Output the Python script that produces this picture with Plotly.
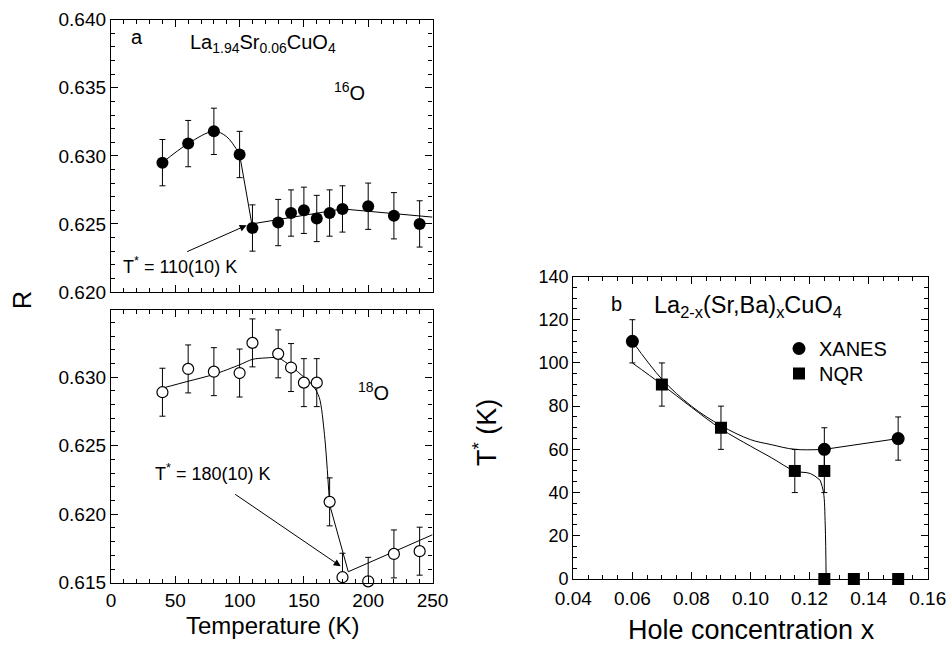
import plotly.graph_objects as go

W, H = 949, 645
FONT = "Liberation Sans, Arial, Helvetica, sans-serif"

# ---------------- data: panel a, 16O ----------------
T16 = [40, 60, 80, 100, 110, 130, 140, 150, 160, 170, 180, 200, 220, 240]
R16 = [0.6295, 0.6309, 0.6318, 0.6301, 0.6247, 0.6251, 0.6258, 0.6260,
       0.6254, 0.6258, 0.6261, 0.6263, 0.6256, 0.6250]
E16 = [0.0017] * len(T16)
fit16a_T = [40, 60, 80, 90, 100]
fit16a_R = [0.6295, 0.6309, 0.6318, 0.6314, 0.6301]
fit16b_T = [100, 109.5, 180, 250]
fit16b_R = [0.6301, 0.6250, 0.6261, 0.6255]

# ---------------- data: panel a, 18O ----------------
T18 = [40, 60, 80, 100, 110, 130, 140, 150, 160, 170, 180, 200, 220, 240]
R18 = [0.6289, 0.6306, 0.6304, 0.6303, 0.6325, 0.6317, 0.6307, 0.6296,
       0.6296, 0.6209, 0.6154, 0.6151, 0.6171, 0.6173]
E18 = [0.00175] * len(T18)
fit18a_T = [40, 60, 80, 100, 110, 120, 130, 140, 150, 157, 162, 166, 170]
fit18a_R = [0.6292, 0.6297, 0.6302, 0.6309, 0.6313, 0.6314, 0.6314, 0.6308,
            0.6300, 0.6294, 0.6285, 0.6258, 0.6207]
fit18b_T = [170, 184.5, 250]
fit18b_R = [0.6207, 0.6158, 0.6185]

# ---------------- data: panel b ----------------
x_xanes = [0.06, 0.125, 0.15]
T_xanes = [110, 60, 65]
E_xanes = [10, 10, 10]
x_nqr = [0.07, 0.09, 0.115, 0.125, 0.125, 0.135, 0.15]
T_nqr = [90, 70, 50, 50, 0, 0, 0]
E_nqr = [10, 10, 10, 10, 0, 0, 0]
fitX_a_x = [0.06, 0.07, 0.08, 0.09, 0.10, 0.107, 0.115, 0.125]
fitX_a_y = [110, 92.5, 80, 71, 64.5, 62.2, 60, 60]
fitX_b_x = [0.125, 0.15]
fitX_b_y = [60, 65]
fitN_a_x = [0.06, 0.07, 0.08, 0.09, 0.10, 0.107, 0.115, 0.1203, 0.1236]
fitN_a_y = [100, 90, 79.5, 69.5, 61.5, 56.2, 50, 48.8, 45.7]
fitN_b_x = [0.1236, 0.1247, 0.1253, 0.1256]
fitN_b_y = [45.7, 40.3, 25, 0]

# ---------------- geometry (pixels) ----------------
def px(x):
    return x / W

def py(y):
    return 1 - y / H

fig = go.Figure()

err = lambda arr: dict(type="data", array=arr, visible=True, color="black",
                       thickness=1, width=3)
line_style = dict(color="black", width=1)

# panel a top (16O)
fig.add_trace(go.Scatter(x=fit16a_T, y=fit16a_R, mode="lines", line=dict(shape="spline", **line_style),
                         xaxis="x2", yaxis="y2", showlegend=False, hoverinfo="skip"))
fig.add_trace(go.Scatter(x=fit16b_T, y=fit16b_R, mode="lines", line=line_style,
                         xaxis="x2", yaxis="y2", showlegend=False, hoverinfo="skip"))
fig.add_trace(go.Scatter(x=T16, y=R16, mode="markers", error_y=err(E16),
                         marker=dict(symbol="circle", size=12, color="black"),
                         xaxis="x2", yaxis="y2", showlegend=False))

# panel a bottom (18O)
fig.add_trace(go.Scatter(x=fit18a_T, y=fit18a_R, mode="lines", line=dict(shape="spline", smoothing=0.8, **line_style),
                         xaxis="x", yaxis="y", showlegend=False, hoverinfo="skip"))
fig.add_trace(go.Scatter(x=fit18b_T, y=fit18b_R, mode="lines", line=line_style,
                         xaxis="x", yaxis="y", showlegend=False, hoverinfo="skip"))
fig.add_trace(go.Scatter(x=T18, y=R18, mode="markers", error_y=err(E18),
                         marker=dict(symbol="circle", size=11, color="white",
                                     line=dict(color="black", width=1.2)),
                         xaxis="x", yaxis="y", showlegend=False, cliponaxis=False))

# panel b
for xs, ys, shp in [(fitX_a_x, fitX_a_y, "spline"), (fitX_b_x, fitX_b_y, "linear"),
                    (fitN_a_x, fitN_a_y, "spline"), (fitN_b_x, fitN_b_y, "spline")]:
    fig.add_trace(go.Scatter(x=xs, y=ys, mode="lines", line=dict(shape=shp, **line_style),
                             xaxis="x3", yaxis="y3", showlegend=False, hoverinfo="skip"))
fig.add_trace(go.Scatter(x=x_xanes, y=T_xanes, mode="markers", name="XANES", error_y=err(E_xanes),
                         marker=dict(symbol="circle", size=13, color="black"),
                         xaxis="x3", yaxis="y3", cliponaxis=False, legend="legend"))
fig.add_trace(go.Scatter(x=x_nqr, y=T_nqr, mode="markers", name="NQR", error_y=err(E_nqr),
                         marker=dict(symbol="square", size=12, color="black"),
                         xaxis="x3", yaxis="y3", cliponaxis=False, legend="legend2"))

def ax(dom, rng, dtick, minor_dtick, fmt, anchor, showlabels=True, fsize=19, standoff=None):
    d = dict(domain=dom, range=rng, dtick=dtick, tick0=0, tickformat=fmt,
             anchor=anchor, showline=True, linecolor="black", linewidth=1.3,
             mirror="allticks", ticks="inside", ticklen=7, tickwidth=1.2,
             tickcolor="black", showgrid=False, zeroline=False, automargin=False,
             showticklabels=showlabels,
             tickfont=dict(family=FONT, size=fsize, color="black"),
             minor=dict(dtick=minor_dtick, ticks="inside", ticklen=4,
                        tickwidth=1, tickcolor="black", showgrid=False))
    if standoff is not None:
        d["ticklabelstandoff"] = standoff
    return d

xdomL = [px(111), px(432.5)]
xdomR = [px(573.3), px(927.7)]
ydomTop = [py(292), py(19.7)]
ydomBot = [py(582.7), py(310)]
ydomR = [py(579), py(276.5)]

legend_style = dict(xanchor="left", yanchor="top",
                    font=dict(family=FONT, size=20, color="black"),
                    bgcolor="rgba(0,0,0,0)", borderwidth=0, itemwidth=30)

fig.update_layout(
    template="none",
    width=W, height=H, autosize=False,
    margin=dict(l=0, r=0, t=0, b=0, pad=0, autoexpand=False),
    paper_bgcolor="white", plot_bgcolor="white",
    font=dict(family=FONT, color="black"),
    xaxis=ax(xdomL, [0, 250], 50, 10, "d", "y"),
    yaxis=ax(ydomBot, [0.615, 0.6349], 0.005, 0.001, ".3f", "x"),
    xaxis2=ax(xdomL, [0, 250], 50, 10, "d", "y2", showlabels=False),
    yaxis2=ax(ydomTop, [0.620, 0.640], 0.005, 0.001, ".3f", "x2"),
    xaxis3=ax(xdomR, [0.04, 0.16], 0.02, 0.005, ".2f", "y3", standoff=2),
    yaxis3=ax(ydomR, [0, 140], 20, 5, "d", "x3", fsize=18),
    legend=dict(x=px(779), y=py(329), **legend_style),
    legend2=dict(x=px(779), y=py(354), **legend_style),
    showlegend=True,
)

def txt(x, y, s, size, xanchor="left", angle=0):
    return dict(x=px(x), y=py(y), xref="paper", yref="paper", text=s, showarrow=False,
                xanchor=xanchor, yanchor="middle", textangle=angle,
                font=dict(family=FONT, size=size, color="black"))

annots = [
    txt(137, 37, "a", 20, "center"),
    txt(188, 44, "La<sub>1.94</sub>Sr<sub>0.06</sub>CuO<sub>4</sub>", 20),
    txt(332, 92, "<sup>16</sup>O", 20),
    txt(121, 265, "T<sup>*</sup> = 110(10) K", 18),
    txt(356, 391, "<sup>18</sup>O", 20),
    txt(153, 473, "T<sup>*</sup> = 180(10) K", 18),
    txt(22, 300, "R", 25, "center", -90),
    txt(272, 625, "Temperature (K)", 24, "center"),
    txt(616, 304, "b", 20, "center"),
    txt(652, 306, "La<sub>2-x</sub>(Sr,Ba)<sub>x</sub>CuO<sub>4</sub>", 23.5),
    txt(485, 433, "T<sup>*</sup> (K)", 27, "center", -90),
    txt(751, 629.5, "Hole concentration x", 27, "center"),
    # arrows
    dict(x=105.5, y=0.6249, xref="x2", yref="y2", text="", showarrow=True,
         ax=-61, ay=27, arrowhead=2, arrowsize=1.4, arrowwidth=1, arrowcolor="black",
         standoff=0),
    dict(x=178.6, y=0.6162, xref="x", yref="y", text="", showarrow=True,
         ax=-107, ay=-73, arrowhead=2, arrowsize=1.4, arrowwidth=1, arrowcolor="black",
         standoff=0),
]
fig.update_layout(annotations=annots)

fig.write_html("out.html")
